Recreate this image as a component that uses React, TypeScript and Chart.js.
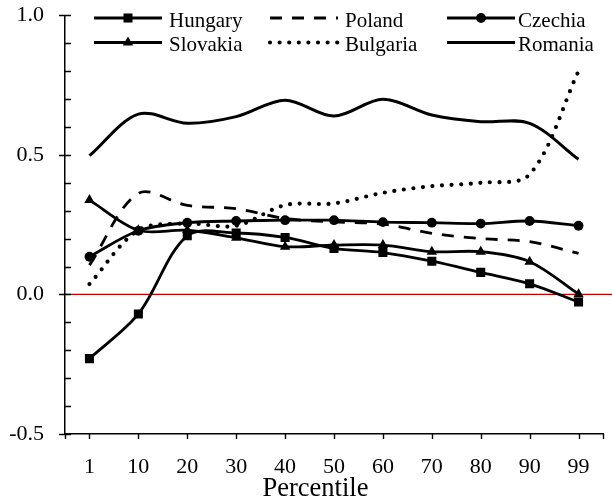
import React, { useEffect, useRef } from 'react';
import { Chart, registerables } from 'chart.js';

Chart.register(...registerables);

const FONT = '"Liberation Serif", "Times New Roman", Times, serif';

// Data
const percentiles = ['1', '10', '20', '30', '40', '50', '60', '70', '80', '90', '99'];
const hungary = [-0.23, -0.07, 0.21, 0.22, 0.204, 0.165, 0.15, 0.119, 0.079, 0.038, -0.027];
const poland = [0.105, 0.362, 0.319, 0.307, 0.272, 0.26, 0.252, 0.219, 0.2, 0.189, 0.147];
const czechia = [0.135, 0.228, 0.257, 0.263, 0.266, 0.266, 0.259, 0.257, 0.254, 0.263, 0.246];
const slovakia = [0.338, 0.23, 0.23, 0.203, 0.171, 0.177, 0.177, 0.153, 0.153, 0.117, 0.001];
const bulgaria = [0.037, 0.23, 0.254, 0.246, 0.32, 0.326, 0.364, 0.388, 0.4, 0.43, 0.8];
const romania = [0.497, 0.646, 0.613, 0.637, 0.696, 0.639, 0.699, 0.643, 0.619, 0.613, 0.484];

const Y_MIN = -0.5;
const Y_MAX = 1.0;
const Y_MINOR_STEP = 0.1;
const Y_MAJOR_STEP = 0.5;
const X_TITLE = 'Percentile';

type Marker = 'rect' | 'circle' | 'triangle' | false;

interface SeriesDef {
  label: string;
  data: number[];
  dash: number[];
  width: number;
  cap: CanvasLineCap;
  marker: Marker;
  radius: number;
}

const seriesDefs: SeriesDef[] = [
  { label: 'Hungary', data: hungary, dash: [], width: 2.8, cap: 'butt', marker: 'rect', radius: 6.4 },
  { label: 'Poland', data: poland, dash: [12, 10], width: 2.8, cap: 'butt', marker: false, radius: 0 },
  { label: 'Czechia', data: czechia, dash: [], width: 2.8, cap: 'butt', marker: 'circle', radius: 4.9 },
  { label: 'Slovakia', data: slovakia, dash: [], width: 2.8, cap: 'butt', marker: 'triangle', radius: 6 },
  { label: 'Bulgaria', data: bulgaria, dash: [0, 9.6], width: 4.2, cap: 'round', marker: false, radius: 0 },
  { label: 'Romania', data: romania, dash: [], width: 3, cap: 'butt', marker: false, radius: 0 },
];

// Legend layout (style): columns and rows
const LEGEND_LINE_X = [94, 270, 447];
const LEGEND_LINE_LEN = 68;
const LEGEND_TEXT_X = [169, 345, 518];
const LEGEND_BASELINE = [26.5, 51];

function drawMarker(ctx: CanvasRenderingContext2D, m: Marker, r: number, x: number, y: number) {
  if (!m) return;
  ctx.save();
  ctx.setLineDash([]);
  ctx.fillStyle = '#000';
  ctx.beginPath();
  if (m === 'rect') {
    const s = Math.SQRT1_2 * r;
    ctx.rect(x - s, y - s, 2 * s, 2 * s);
  } else if (m === 'circle') {
    ctx.arc(x, y, r, 0, Math.PI * 2);
  } else if (m === 'triangle') {
    for (let k = 0; k < 3; k++) {
      const a = -Math.PI / 2 + (k * 2 * Math.PI) / 3;
      const px = x + Math.cos(a) * r;
      const py = y + Math.sin(a) * r;
      if (k === 0) ctx.moveTo(px, py);
      else ctx.lineTo(px, py);
    }
    ctx.closePath();
  }
  ctx.fill();
  ctx.restore();
}

const refLinePlugin = {
  id: 'refLine',
  beforeDatasetsDraw(chart: any) {
    const { ctx, chartArea, scales, width } = chart;
    const y = scales.y.getPixelForValue(0);
    ctx.save();
    ctx.strokeStyle = '#c00000';
    ctx.lineWidth = 1.2;
    ctx.beginPath();
    ctx.moveTo(chartArea.left, y);
    ctx.lineTo(width, y);
    ctx.stroke();
    ctx.restore();
  },
};

const tickPlugin = {
  id: 'tickMarks',
  afterDraw(chart: any) {
    const { ctx, chartArea, scales } = chart;
    const xs = scales.x;
    const ys = scales.y;
    ctx.save();
    ctx.strokeStyle = '#000';
    ctx.lineWidth = 1.4;
    ctx.setLineDash([]);
    ctx.beginPath();
    ys.ticks.forEach((t: any) => {
      const y = Math.round(ys.getPixelForValue(t.value)) + 0.5;
      const major = Math.abs(t.value / Y_MAJOR_STEP - Math.round(t.value / Y_MAJOR_STEP)) < 1e-6;
      ctx.moveTo(chartArea.left + (major ? -6 : 0), y);
      ctx.lineTo(chartArea.left + 6, y);
    });
    const xPos: number[] = [chartArea.left, chartArea.right];
    xs.ticks.forEach((_t: any, i: number) => xPos.push(xs.getPixelForTick(i)));
    xPos.forEach((x) => {
      const px = Math.round(x) + 0.5;
      ctx.moveTo(px, chartArea.bottom);
      ctx.lineTo(px, chartArea.bottom + 5);
    });
    ctx.stroke();

    // axis title
    ctx.fillStyle = '#000';
    ctx.font = `26.5px ${FONT}`;
    ctx.textAlign = 'center';
    ctx.textBaseline = 'alphabetic';
    ctx.fillText(X_TITLE, 315.5, 496);
    ctx.restore();
  },
};

const legendPlugin = {
  id: 'customLegend',
  afterDraw(chart: any) {
    const { ctx } = chart;
    ctx.save();
    seriesDefs.forEach((s, i) => {
      const col = i % 3;
      const row = Math.floor(i / 3);
      const base = LEGEND_BASELINE[row];
      const ly = base - 8.5;
      const x0 = LEGEND_LINE_X[col];
      const x1 = x0 + LEGEND_LINE_LEN;
      ctx.strokeStyle = '#000';
      ctx.lineWidth = s.width;
      ctx.lineCap = s.cap;
      ctx.setLineDash(s.dash);
      ctx.beginPath();
      ctx.moveTo(x0, ly);
      ctx.lineTo(x1, ly);
      ctx.stroke();
      drawMarker(ctx, s.marker, s.radius, (x0 + x1) / 2, ly);
      ctx.setLineDash([]);
      ctx.fillStyle = '#000';
      ctx.font = `21px ${FONT}`;
      ctx.textAlign = 'left';
      ctx.textBaseline = 'alphabetic';
      ctx.fillText(s.label, LEGEND_TEXT_X[col], base);
    });
    ctx.restore();
  },
};

export default function App() {
  const ref = useRef<HTMLCanvasElement>(null);

  useEffect(() => {
    document.body.style.margin = '0';
    const canvas = ref.current;
    if (!canvas) return;
    const chart = new Chart(canvas, {
      type: 'line',
      data: {
        labels: percentiles,
        datasets: seriesDefs.map((s) => ({
          label: s.label,
          data: s.data,
          borderColor: '#000',
          backgroundColor: '#000',
          borderWidth: s.width,
          borderDash: s.dash,
          borderCapStyle: s.cap,
          borderJoinStyle: 'round',
          tension: 0.33,
          fill: false,
          pointStyle: s.marker || 'circle',
          pointRadius: s.marker ? s.radius : 0,
          pointBorderWidth: 0,
          pointBackgroundColor: '#000',
          pointBorderColor: '#000',
          pointHoverRadius: 0,
        })),
      },
      options: {
        responsive: false,
        animation: false,
        devicePixelRatio: 1,
        events: [],
        layout: { padding: { top: 15.3, right: 9, bottom: 0, left: 0 } },
        plugins: {
          legend: { display: false },
          tooltip: { enabled: false },
          title: { display: false },
        },
        scales: {
          x: {
            type: 'category',
            offset: true,
            grid: { display: false, drawTicks: false },
            border: { display: true, color: '#000', width: 1.5 },
            ticks: {
              color: '#000',
              font: { family: FONT, size: 22 },
              padding: 20,
              maxRotation: 0,
              autoSkip: false,
            },
            title: { display: false },
            afterFit: (s: any) => {
              s.height = 68;
              s.paddingLeft = 0;
              s.paddingRight = 0;
            },
          },
          y: {
            type: 'linear',
            min: Y_MIN,
            max: Y_MAX,
            grid: { display: false, drawTicks: false },
            border: { display: true, color: '#000', width: 1.5 },
            ticks: {
              stepSize: Y_MINOR_STEP,
              autoSkip: false,
              color: '#000',
              font: { family: FONT, size: 22 },
              padding: 21,
              callback: (v: any) => {
                const n = Number(v);
                const major = Math.abs(n / Y_MAJOR_STEP - Math.round(n / Y_MAJOR_STEP)) < 1e-6;
                return major ? (Math.round(n * 10) / 10).toFixed(1) : '';
              },
            },
            afterFit: (s: any) => {
              s.width = 65;
              s.paddingTop = 0;
              s.paddingBottom = 0;
            },
          },
        },
      },
      plugins: [refLinePlugin, tickPlugin, legendPlugin],
    } as any);
    return () => chart.destroy();
  }, []);

  return (
    <div style={{ width: 612, height: 502 }}>
      <canvas ref={ref} width={612} height={502} style={{ display: 'block' }} />
    </div>
  );
}
